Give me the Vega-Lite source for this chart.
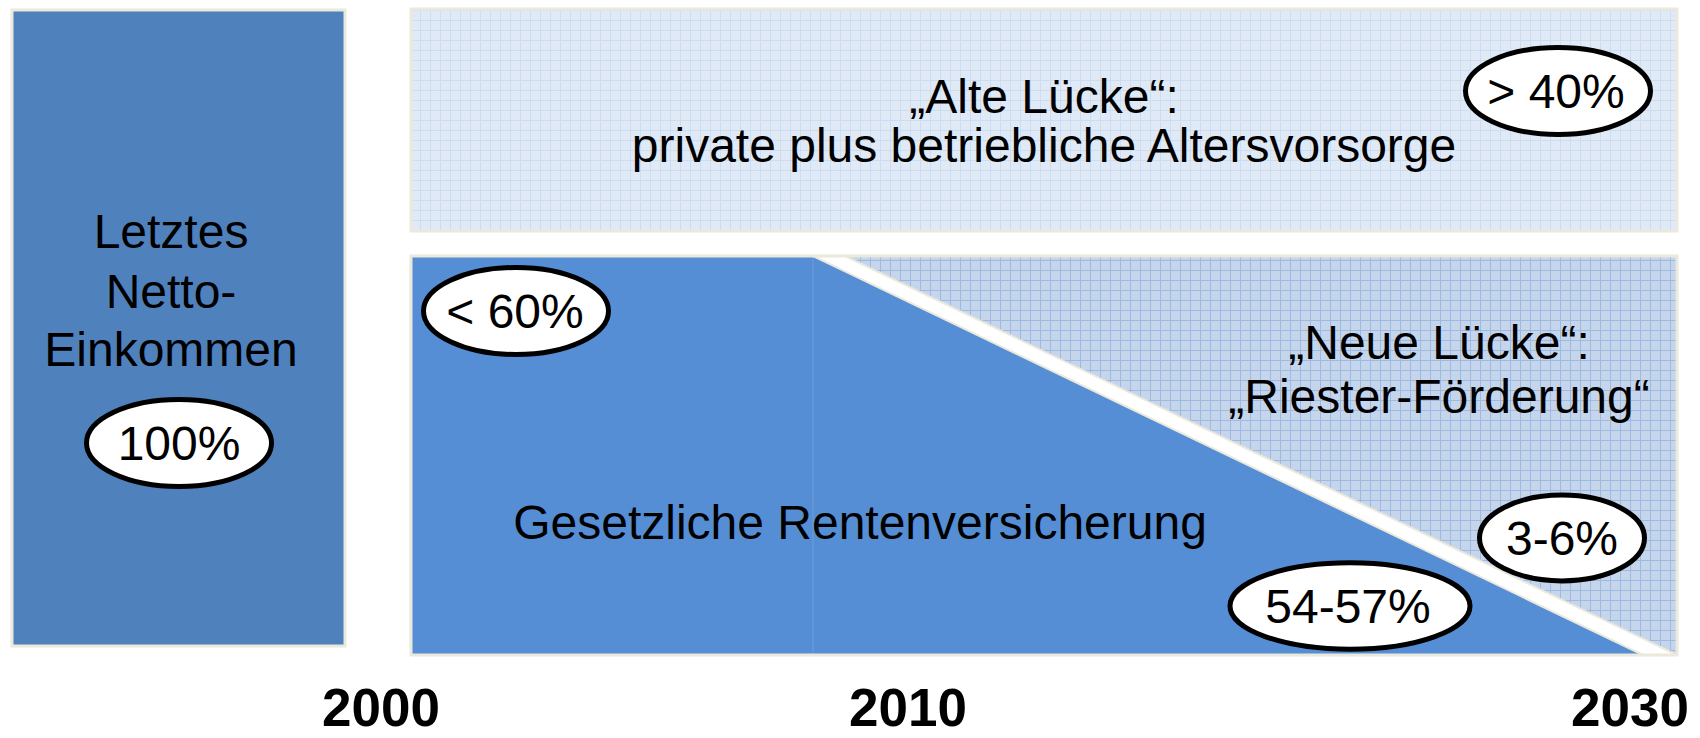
{
  "$schema": "https://vega.github.io/schema/vega-lite/v6.json",
  "width": 1700,
  "height": 738,
  "autosize": {"type": "none"},
  "padding": 0,
  "background": "white",
  "config": {"view": {"stroke": null}},
  "datasets": {
    "cover": [
      {"x": -20, "x2": 1720, "y": -20, "y2": 9},
      {"x": -20, "x2": 411, "y": -20, "y2": 760},
      {"x": 1677, "x2": 1720, "y": -20, "y2": 760},
      {"x": 411, "x2": 1677, "y": 231, "y2": 256},
      {"x": 411, "x2": 1720, "y": 655, "y2": 760}
    ],
    "topbox": [{"x": 411, "x2": 1677, "y": 9, "y2": 231}],
    "lowbox": [{"x": 411, "x2": 1677, "y": 256, "y2": 655}],
    "leftbar": [{"x": 12, "x2": 345, "y": 10, "y2": 646}],
    "blue": [
      {"x": 411, "y": 256, "y2": 655},
      {"x": 813, "y": 256, "y2": 655},
      {"x": 1643, "y": 655, "y2": 655}
    ],
    "band": [
      {"x": 813, "y": 256, "y2": 256},
      {"x": 845, "y": 256, "y2": 271.4},
      {"x": 1643, "y": 638.7, "y2": 655},
      {"x": 1677, "y": 655, "y2": 655}
    ],
    "tri": [
      {"x": 845, "y": 256, "y2": 256},
      {"x": 1677, "y": 256, "y2": 655}
    ],
    "seam": [{"x": 813, "y": 256, "y2": 655}],
    "ell": [
      {"label": "100%", "x": 179, "y": 443},
      {"label": "< 60%", "x": 516, "y": 311},
      {"label": "> 40%", "x": 1558, "y": 91}
    ],
    "ellsmall": [{"label": "3-6%", "x": 1562, "y": 538}],
    "ellwide": [{"label": "54-57%", "x": 1350, "y": 606}],
    "labels": [
      {"t": "Letztes", "x": 171, "y": 248},
      {"t": "Netto-", "x": 171, "y": 308},
      {"t": "Einkommen", "x": 171, "y": 366},
      {"t": "100%", "x": 179, "y": 460},
      {"t": "„Alte Lücke“:", "x": 1044, "y": 113},
      {"t": "private plus betriebliche Altersvorsorge", "x": 1044, "y": 162},
      {"t": "> 40%", "x": 1556, "y": 108},
      {"t": "< 60%", "x": 515, "y": 328},
      {"t": "„Neue Lücke“:", "x": 1439, "y": 359},
      {"t": "„Riester-Förderung“", "x": 1439, "y": 413},
      {"t": "Gesetzliche Rentenversicherung", "x": 860, "y": 539},
      {"t": "54-57%", "x": 1348, "y": 623},
      {"t": "3-6%", "x": 1562, "y": 555}
    ],
    "years": [
      {"t": "2000", "x": 381, "y": 726},
      {"t": "2010", "x": 908, "y": 726},
      {"t": "2030", "x": 1630, "y": 726}
    ]
  },
  "encoding": {
    "x": {"field": "x", "type": "quantitative",
      "scale": {"domain": [0, 1700], "nice": false, "zero": false},
      "axis": {"grid": true, "gridColor": "#4a7fc9", "gridWidth": 1, "tickCount": 170,
        "labels": false, "ticks": false, "domain": false, "title": null}},
    "y": {"field": "y", "type": "quantitative",
      "scale": {"domain": [0, 738], "nice": false, "zero": false, "reverse": true},
      "axis": {"grid": true, "gridColor": "#4a7fc9", "gridWidth": 1, "tickCount": 74,
        "labels": false, "ticks": false, "domain": false, "title": null}}
  },
  "layer": [
    {"data": {"name": "cover"},
     "mark": {"type": "rect", "fill": "white", "strokeWidth": 0},
     "encoding": {"x2": {"field": "x2"}, "y2": {"field": "y2"}}},
    {"data": {"name": "topbox"},
     "mark": {"type": "rect", "fill": "#dce7f6", "fillOpacity": 0.89, "stroke": "#ebe8dc", "strokeWidth": 3},
     "encoding": {"x2": {"field": "x2"}, "y2": {"field": "y2"}}},
    {"data": {"name": "blue"},
     "mark": {"type": "area", "color": "#558ed5", "opacity": 1, "interpolate": "linear"},
     "encoding": {"y2": {"field": "y2"}}},
    {"data": {"name": "tri"},
     "mark": {"type": "area", "color": "#b6cae7", "fillOpacity": 0.79, "interpolate": "linear"},
     "encoding": {"y2": {"field": "y2"}}},
    {"data": {"name": "band"},
     "mark": {"type": "area", "fill": "white", "fillOpacity": 1, "stroke": "#ebe8dc", "strokeWidth": 2, "interpolate": "linear"},
     "encoding": {"y2": {"field": "y2"}}},
    {"data": {"name": "seam"},
     "mark": {"type": "rule", "color": "#6c9ddc", "strokeWidth": 1},
     "encoding": {"y2": {"field": "y2"}}},
    {"data": {"name": "lowbox"},
     "mark": {"type": "rect", "fill": null, "fillOpacity": 0, "stroke": "#ebe8dc", "strokeWidth": 3},
     "encoding": {"x2": {"field": "x2"}, "y2": {"field": "y2"}}},
    {"data": {"name": "leftbar"},
     "mark": {"type": "rect", "fill": "#4f81bd", "stroke": "#ebe8dc", "strokeWidth": 3},
     "encoding": {"x2": {"field": "x2"}, "y2": {"field": "y2"}}},
    {"data": {"name": "ell"},
     "mark": {"type": "point", "shape": "M-1,0A1,0.47,0,1,1,1,0A1,0.47,0,1,1,-1,0Z",
       "size": 34225, "filled": true, "fill": "white", "stroke": "black", "strokeWidth": 5, "opacity": 1, "fillOpacity": 1, "strokeOpacity": 1}},
    {"data": {"name": "ellsmall"},
     "mark": {"type": "point", "shape": "M-1,0A1,0.52,0,1,1,1,0A1,0.52,0,1,1,-1,0Z",
       "size": 27225, "filled": true, "fill": "white", "stroke": "black", "strokeWidth": 5, "opacity": 1, "fillOpacity": 1, "strokeOpacity": 1}},
    {"data": {"name": "ellwide"},
     "mark": {"type": "point", "shape": "M-1,0A1,0.36,0,1,1,1,0A1,0.36,0,1,1,-1,0Z",
       "size": 57600, "filled": true, "fill": "white", "stroke": "black", "strokeWidth": 5, "opacity": 1, "fillOpacity": 1, "strokeOpacity": 1}},
    {"data": {"name": "labels"},
     "mark": {"type": "text", "font": "Liberation Sans", "fontSize": 48, "align": "center", "baseline": "alphabetic", "color": "black"},
     "encoding": {"text": {"field": "t"}}},
    {"data": {"name": "years"},
     "mark": {"type": "text", "font": "Liberation Sans", "fontSize": 53, "fontWeight": "bold", "align": "center", "baseline": "alphabetic", "color": "black"},
     "encoding": {"text": {"field": "t"}}}
  ]
}
